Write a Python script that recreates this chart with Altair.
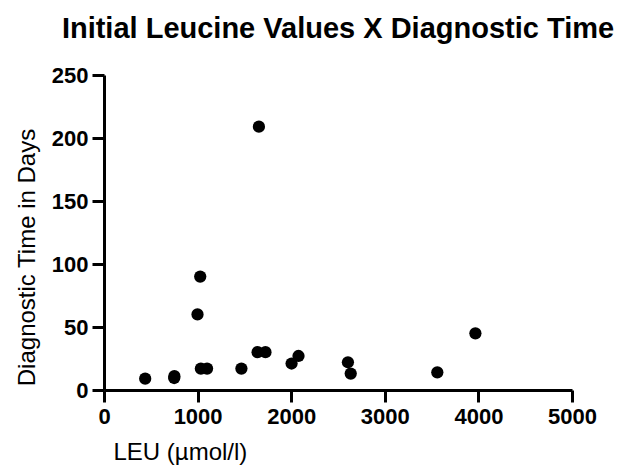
import altair as alt
import pandas as pd

leu = [440, 750, 752, 999, 1028, 1035, 1101, 1468, 1655, 1641, 1725, 2004, 2078, 2606, 2636, 3561, 3968]
days = [9, 9.5, 11, 60, 90, 17, 17, 17, 209, 30, 30, 21, 27, 22, 13, 14, 45]

df = pd.DataFrame({"LEU": leu, "Days": days})

FONT = "Liberation Sans"

chart = alt.Chart(df).mark_circle(size=150, color="black", opacity=1).encode(
    x=alt.X("LEU:Q",
            scale=alt.Scale(domain=[0, 5000], nice=False, zero=True),
            axis=alt.Axis(values=[0, 1000, 2000, 3000, 4000, 5000],
                          title="LEU (µmol/l)", titleAnchor="start", titleAlign="left",
                          titleX=9, titleY=69, titleBaseline="alphabetic",
                          format="d")),
    y=alt.Y("Days:Q",
            scale=alt.Scale(domain=[0, 250], nice=False),
            axis=alt.Axis(values=[0, 50, 100, 150, 200, 250],
                          title="Diagnostic Time in Days",
                          titleX=-70, titleY=182, titleAngle=-90,
                          titleAlign="center", titleBaseline="alphabetic",
                          format="d")),
).properties(
    width=468, height=315,
    title=alt.TitleParams("Initial Leucine Values X Diagnostic Time",
                          anchor="middle", fontSize=29, font=FONT,
                          fontWeight="bold", color="black", offset=20),
    autosize=alt.AutoSizeParams(type="none"),
    padding={"left": 96, "top": 67, "right": 42, "bottom": 75},
).configure_view(stroke=None).configure_axis(
    grid=False,
    domainColor="black", domainWidth=3,
    tickColor="black", tickWidth=3, tickSize=12,
    labelFont=FONT, labelFontSize=22, labelFontWeight="bold", labelColor="black",
    labelPadding=4,
    titleFont=FONT, titleFontSize=24, titleFontWeight="normal", titleColor="black",
    labelFlush=False, labelOverlap=False,
)

chart.save("out.html", embed_options={"renderer": "svg", "actions": False})
